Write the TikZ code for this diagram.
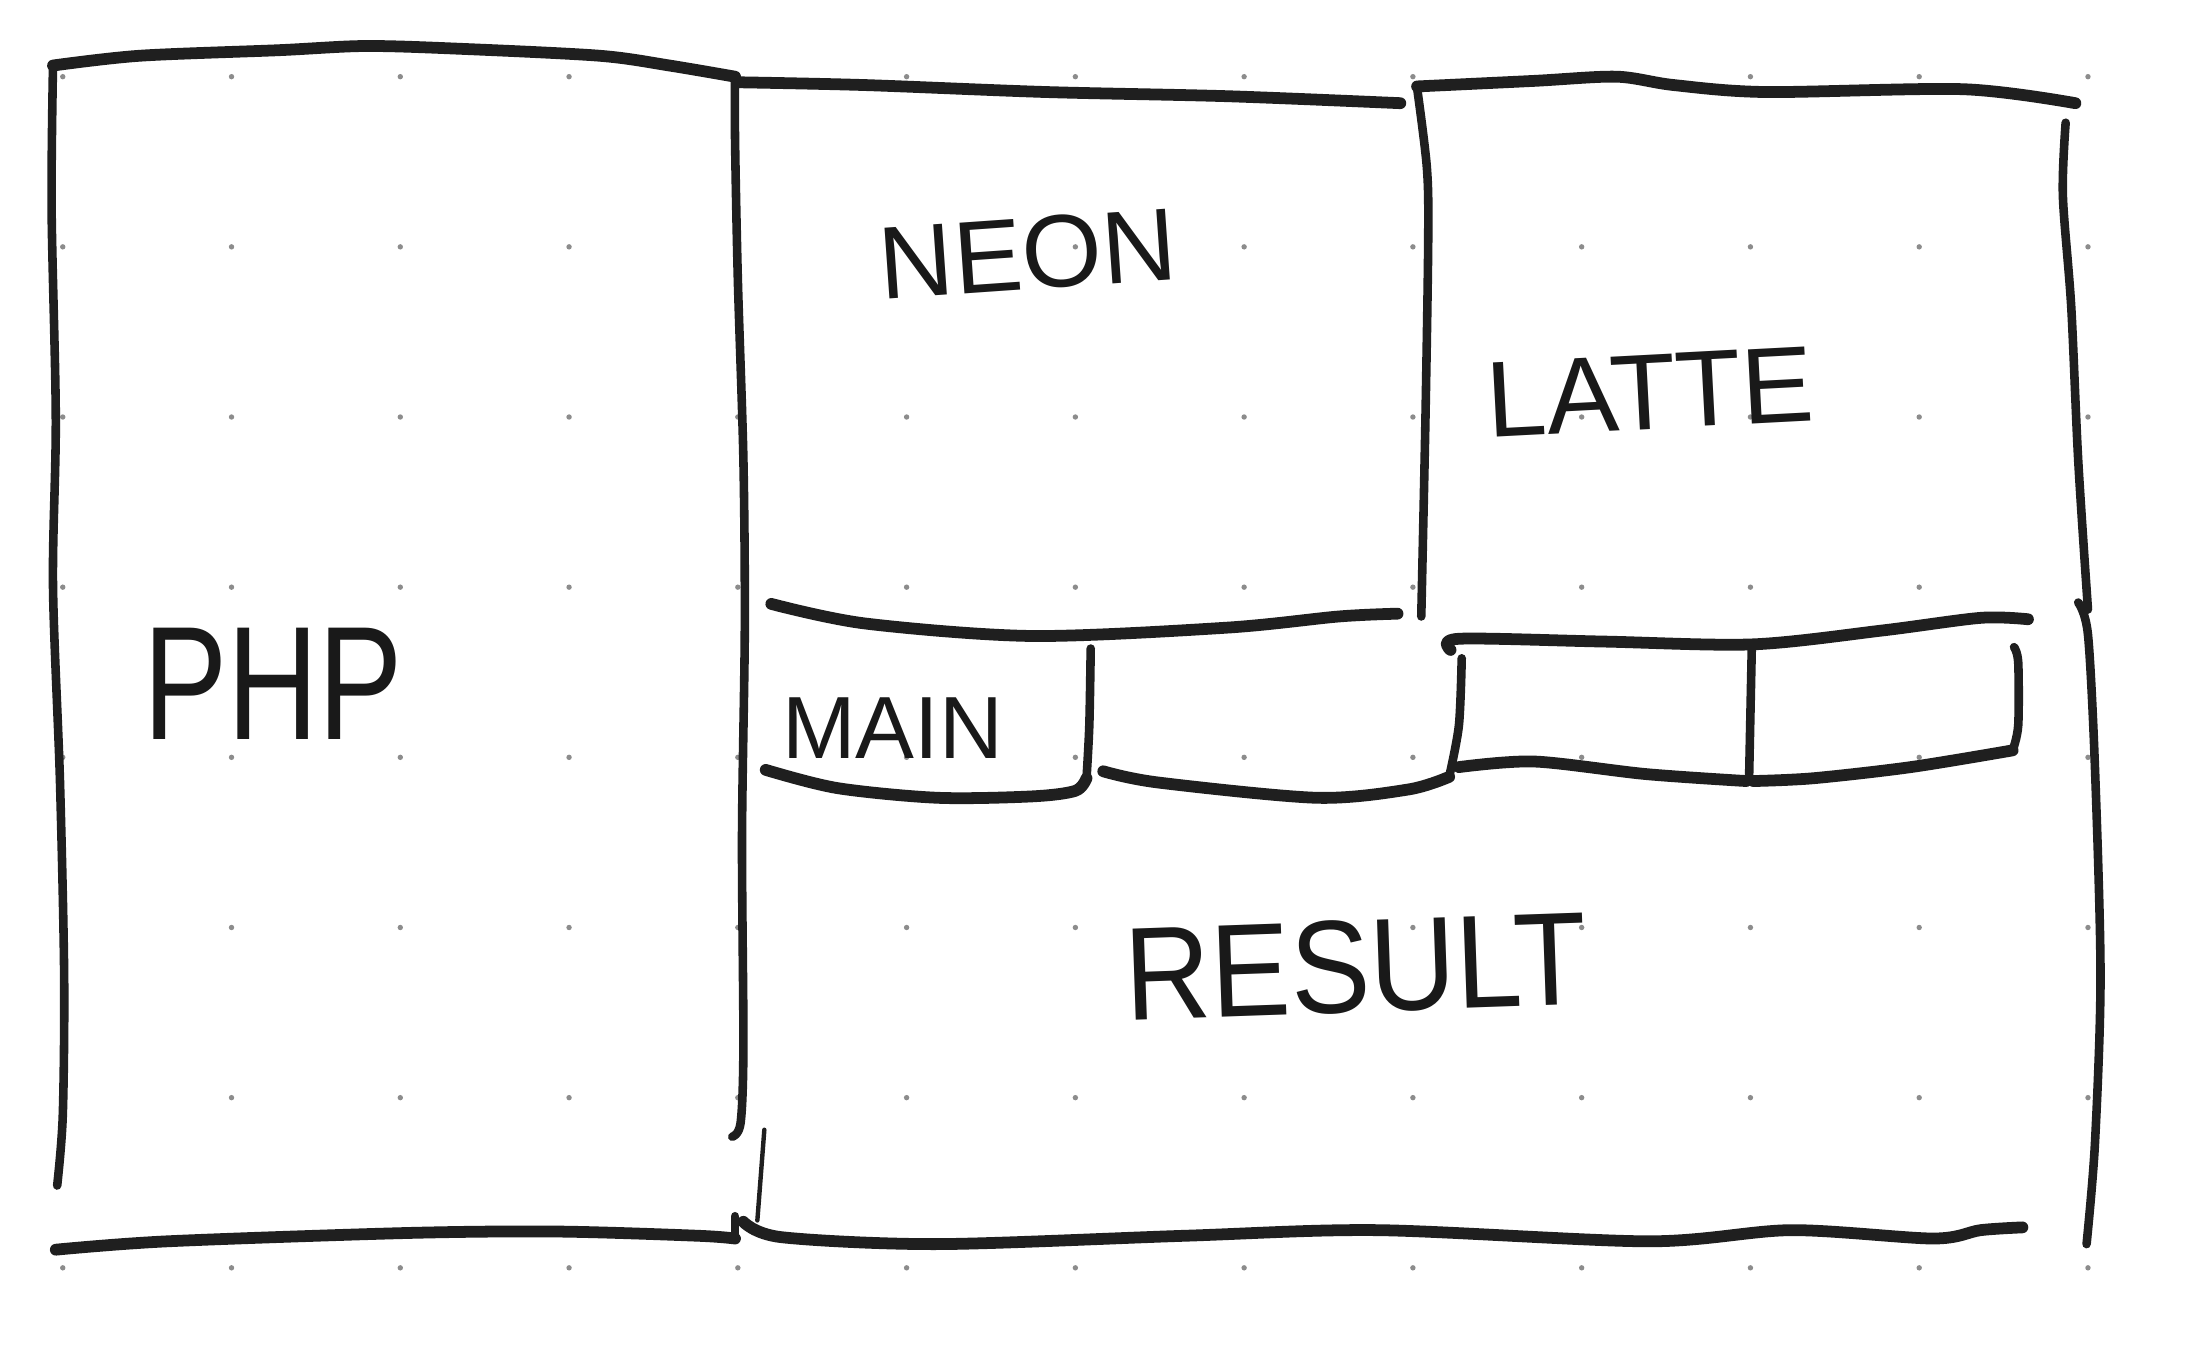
\documentclass[tikz,border=0pt]{standalone}
\usepackage{fontspec}
\setmainfont{Liberation Sans}
\tikzset{
  pen/.style={line width=2.4pt, line cap=round, line join=round, draw=black!88},
  thinpen/.style={line width=1.75pt, line cap=round, line join=round, draw=black!88},
  hairpen/.style={line width=0.9pt, line cap=round, draw=black!88},
  gdot/.style={fill=black!45},
  lbl/.style={inner sep=0pt, text=black!90}
}
\begin{document}
\begin{tikzpicture}[x=0.01cm, y=-0.01cm]
\useasboundingbox[fill=white] (0,0) rectangle (1568,968);
% dotted paper
\foreach \i in {0,...,12}{
  \foreach \j in {0,...,7}{
    \fill[gdot] (45+121*\i, 55+122*\j) circle[radius=0.55pt];
  }
}
% PHP box
\draw[pen] plot[smooth, tension=0.5] coordinates {(38,47) (100,40) (200,36) (262,33) (330,35) (430,40) (480,47) (527,55)};
\draw[thinpen] plot[smooth, tension=0.5] coordinates {(38,47) (37,150) (40,300) (38,420) (43,560) (46,700) (45,800) (41,850)};
\draw[thinpen] plot[smooth, tension=0.5] coordinates {(527,56) (527,100) (529,200) (533,330) (534,450) (532,600) (533,750) (531,805) (525,815)};
\draw[hairpen] (548,810) -- (543,875);
\draw[thinpen] (527,872) -- (527,887);
\draw[pen] plot[smooth, tension=0.5] coordinates {(40,896) (120,890) (293,884) (400,883) (500,886) (527,888)};
% NEON box
\draw[pen] plot[smooth, tension=0.5] coordinates {(529,59) (620,61) (750,66) (880,69) (1004,74)};
\draw[pen] plot[smooth, tension=0.5] coordinates {(553,433) (620,447) (740,456) (880,450) (960,442) (1002,440)};
% LATTE box
\draw[pen] plot[smooth, tension=0.5] coordinates {(1016,62) (1100,58) (1159,55) (1200,61) (1266,66) (1408,64) (1488,74)};
\draw[thinpen] plot[smooth, tension=0.5] coordinates {(1016,63) (1023,120) (1024,170) (1022,300) (1019,442)};
% right outer line
\draw[thinpen] plot[smooth, tension=0.5] coordinates {(1481,88) (1479,140) (1485,220) (1490,330) (1497,437)};
\draw[thinpen] plot[smooth, tension=0.5] coordinates {(1490,432) (1497,455) (1502,550) (1506,700) (1502,820) (1496,892)};
% row of small boxes
\draw[pen] plot[smooth, tension=0.5] coordinates {(549,552) (600,565) (672,572) (740,571) (771,567) (779,558)};
\draw[thinpen] plot[smooth, tension=0.5] coordinates {(779,558) (781,520) (782,465)};
\draw[pen] plot[smooth, tension=0.5] coordinates {(791,553) (830,561) (944,572) (1010,566) (1039,557)};
\draw[thinpen] plot[smooth, tension=0.5] coordinates {(1039,557) (1046,520) (1048,472)};
\draw[pen] plot[smooth, tension=0.5] coordinates {(1040,466) (1046,458) (1150,460) (1257,462) (1350,452) (1420,443) (1454,444)};
\draw[pen] plot[smooth, tension=0.5] coordinates {(1046,550) (1100,546) (1180,555) (1252,560)};
\draw[pen] plot[smooth, tension=0.5] coordinates {(1257,560) (1300,558) (1370,550) (1443,538)};
\draw[thinpen] plot[smooth, tension=0.5] coordinates {(1443,538) (1447,520) (1447,475) (1444,464)};
\draw[thinpen] (1256,463) -- (1254,560);
% bottom of right section
\draw[pen] plot[smooth, tension=0.5] coordinates {(533,876) (560,887) (672,892) (850,886) (988,882) (1182,890) (1284,882) (1386,888) (1420,882) (1450,880)};
% labels
\node[lbl, rotate=4, font=\fontsize{21}{25}\selectfont] (neon) at (737,182) {NEON};
\node[lbl, rotate=3, font=\fontsize{22}{26}\selectfont] (latte) at (1183,281) {LATTE};
\node[lbl, xscale=0.78, font=\fontsize{33}{38}\selectfont] (php) at (196,490) {PHP};
\node[lbl, font=\fontsize{18}{22}\selectfont] (main) at (640,522) {MAIN};
\node[lbl, rotate=2, xscale=0.9, font=\fontsize{27}{32}\selectfont] (result) at (972,693) {RESULT};
\end{tikzpicture}
\end{document}
